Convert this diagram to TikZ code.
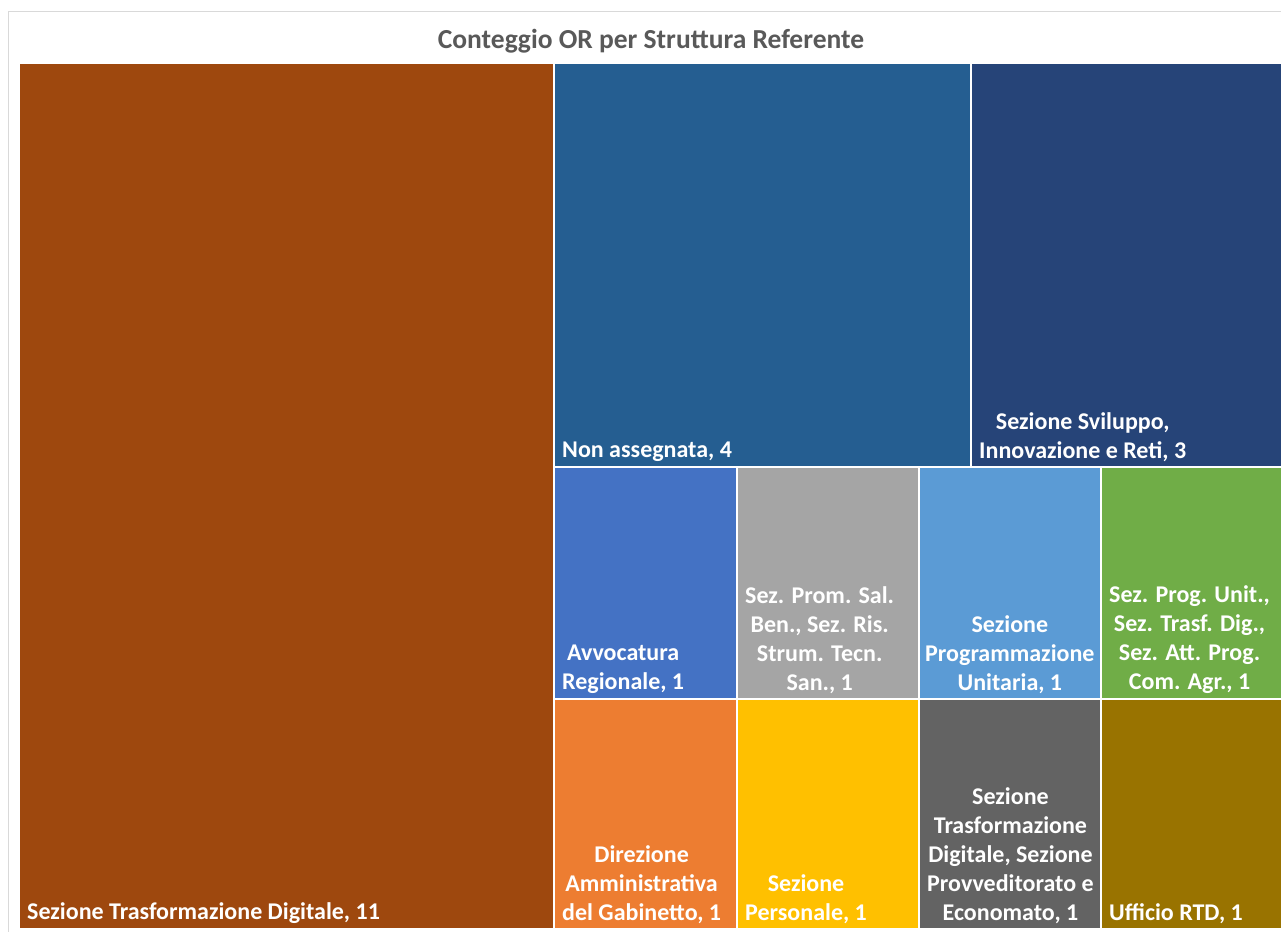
\documentclass[tikz,border=0pt]{standalone}
\usepackage{fontspec}
\setmainfont{Carlito}
\usetikzlibrary{positioning}

\definecolor{cstd}{HTML}{9E480E}
\definecolor{cnona}{HTML}{255E91}
\definecolor{csvil}{HTML}{264478}
\definecolor{cavv}{HTML}{4472C4}
\definecolor{csan}{HTML}{A5A5A5}
\definecolor{cprog}{HTML}{5B9BD5}
\definecolor{cagr}{HTML}{70AD47}
\definecolor{cdir}{HTML}{ED7D31}
\definecolor{cpers}{HTML}{FFC000}
\definecolor{cprov}{HTML}{636363}
\definecolor{crtd}{HTML}{997300}
\definecolor{ctitle}{HTML}{595959}
\definecolor{cframe}{HTML}{D9D9D9}

\begin{document}
\begin{tikzpicture}[
            x=1pt, y=-1pt,
            node distance=0pt,
            cell/.style={rectangle, draw=white, line width=2pt, inner sep=0pt, outer sep=0pt},
            lbl/.style={text=white, font=\bfseries\fontsize{24}{29}\selectfont, align=center, inner sep=0pt},
            ttl/.style={text=ctitle, font=\bfseries\fontsize{27.5}{32}\selectfont}
        ]

        \fill[white] (0,0) rectangle (1281,931);
        \useasboundingbox (0,0) rectangle (1281,931);

        % Frame and title
        \draw[cframe, line width=1pt] (8,940) -- (8,12) -- (1290,12);
        \node[ttl] (title) at (651,41) {Conteggio OR per Struttura Referente};

        % Cells
        \node[cell, fill=cstd, minimum width=535pt, minimum height=866pt, anchor=north west] (std) at (19,63) {};
        \node[cell, fill=cnona, minimum width=417pt, minimum height=404pt, right=of std.north east, anchor=north west] (nona) {};
        \node[cell, fill=csvil, minimum width=312pt, minimum height=404pt, right=of nona.north east, anchor=north west] (svil) {};
        \node[cell, fill=cavv, minimum width=183pt, minimum height=232pt, below=of nona.south west, anchor=north west] (avv) {};
        \node[cell, fill=csan, minimum width=182pt, minimum height=232pt, right=of avv.north east, anchor=north west] (san) {};
        \node[cell, fill=cprog, minimum width=182pt, minimum height=232pt, right=of san.north east, anchor=north west] (prog) {};
        \node[cell, fill=cagr, minimum width=182pt, minimum height=232pt, right=of prog.north east, anchor=north west] (agr) {};
        \node[cell, fill=cdir, minimum width=183pt, minimum height=230pt, below=of avv.south west, anchor=north west] (dir) {};
        \node[cell, fill=cpers, minimum width=182pt, minimum height=230pt, right=of dir.north east, anchor=north west] (pers) {};
        \node[cell, fill=cprov, minimum width=182pt, minimum height=230pt, right=of pers.north east, anchor=north west] (prov) {};
        \node[cell, fill=crtd, minimum width=182pt, minimum height=230pt, right=of prov.north east, anchor=north west] (rtd) {};

        % Labels
        \node[lbl, above right=5pt and 8pt of std.south west] (lstd) {Sezione Trasformazione Digitale, 11};
        \node[lbl, above right=5pt and 8pt of nona.south west] (lnona) {Non assegnata, 4};
        \node[lbl, above right=5pt and 8pt of svil.south west] (lsvil) {Sezione Sviluppo,\\Innovazione e Reti, 3};
        \node[lbl, above right=5pt and 8pt of avv.south west] (lavv) {Avvocatura\\Regionale, 1};
        \node[lbl, above right=5pt and 8pt of san.south west] (lsan) {Sez. Prom. Sal.\\Ben., Sez. Ris.\\Strum. Tecn.\\San., 1};
        \node[lbl, above right=5pt and 6pt of prog.south west] (lprog) {Sezione\\Programmazione\\Unitaria, 1};
        \node[lbl, above right=5pt and 8pt of agr.south west] (lagr) {Sez. Prog. Unit.,\\Sez. Trasf. Dig.,\\Sez. Att. Prog.\\Com. Agr., 1};
        \node[lbl, above right=5pt and 8pt of dir.south west] (ldir) {Direzione\\Amministrativa\\del Gabinetto, 1};
        \node[lbl, above right=5pt and 8pt of pers.south west] (lpers) {Sezione\\Personale, 1};
        \node[lbl, above right=5pt and 8pt of prov.south west] (lprov) {Sezione\\Trasformazione\\Digitale, Sezione\\Provveditorato e\\Economato, 1};
        \node[lbl, above right=5pt and 8pt of rtd.south west] (lrtd) {Ufficio RTD, 1};

\end{tikzpicture}
\end{document}
